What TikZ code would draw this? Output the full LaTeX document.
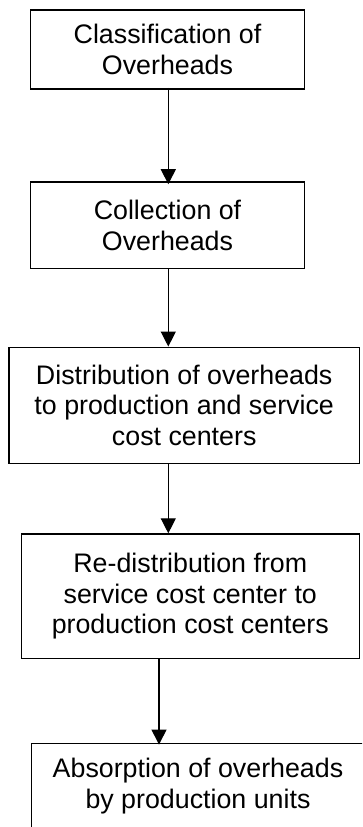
\documentclass[tikz,border=0pt]{standalone}
\usepackage{fontspec}
\setmainfont{Liberation Sans}
\usetikzlibrary{arrows.meta}
\begin{document}
\begin{tikzpicture}[x=1pt,y=-1pt,
  stepbox/.style={draw=black, line width=1.5pt, align=center, inner sep=0pt,
    font=\fontsize{26.8}{30.5}\selectfont},
  arr/.style={line width=1.3pt, -{Triangle[width=15pt,length=15pt]}}]
\useasboundingbox (0,0) rectangle (362,827);
\clip (0,0) rectangle (362,827);
\node[stepbox, minimum width=273.6pt, minimum height=79pt] (b1) at (167.5,49.5)
  {Classification of\\Overheads};
\node[stepbox, minimum width=273.6pt, minimum height=86.7pt] (b2) at (167.5,225.3)
  {Collection of\\Overheads};
\node[stepbox, minimum width=350.3pt, minimum height=116pt] (b3) at (184.2,405.3)
  {Distribution of overheads\\to production and service\\cost centers};
\node[stepbox, minimum width=338pt, minimum height=124.3pt] (b4) at (190.3,596.2)
  {Re-distribution from\\service cost center to\\production cost centers};
\node[stepbox, minimum width=333.4pt, minimum height=86pt] (b5) at (198,786.3)
  {Absorption of overheads\\by production units};
\draw[arr] ([yshift=2pt]b1.south -| 168.3,0) -- ([yshift=-3pt]b2.north -| 168.3,0);
\draw[arr] (b2.south -| 168.3,0) -- (b3.north -| 168.3,0);
\draw[arr] (b3.south -| 168.3,0) -- (b4.north -| 168.3,0);
\draw[arr] (b4.south -| 159,0) -- ([yshift=-2pt]b5.north -| 159,0);
\end{tikzpicture}
\end{document}
